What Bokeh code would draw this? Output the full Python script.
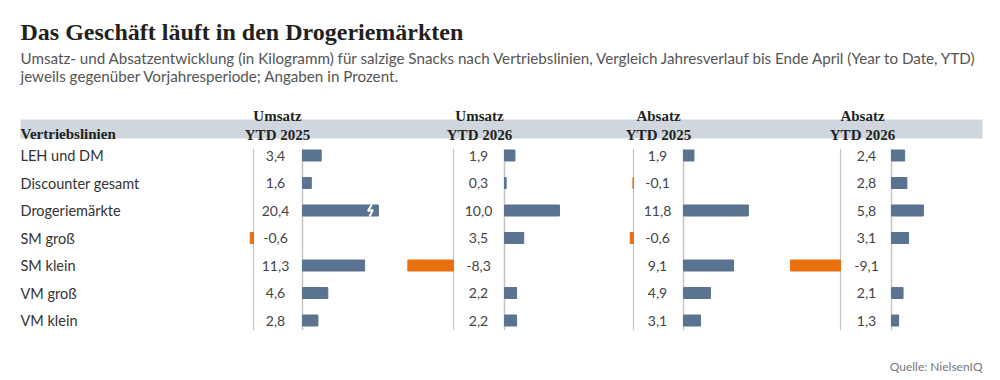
from bokeh.plotting import figure
from bokeh.models import Range1d
from bokeh.core.properties import value
from bokeh.embed import file_html
from bokeh.resources import INLINE

# ---------------- data ----------------
categories = ["LEH und DM", "Discounter gesamt", "Drogeriemärkte", "SM groß",
              "SM klein", "VM groß", "VM klein"]
umsatz_2025 = [3.4, 1.6, 20.4, -0.6, 11.3, 4.6, 2.8]
umsatz_2026 = [1.9, 0.3, 10.0, 3.5, -8.3, 2.2, 2.2]
absatz_2025 = [1.9, -0.1, 11.8, -0.6, 9.1, 4.9, 3.1]
absatz_2026 = [2.4, 2.8, 5.8, 3.1, -9.1, 2.1, 1.3]
series = [umsatz_2025, umsatz_2026, absatz_2025, absatz_2026]
header_top = ["Umsatz", "Umsatz", "Absatz", "Absatz"]
header_bottom = ["YTD 2025", "YTD 2026", "YTD 2025", "YTD 2026"]
row_header = "Vertriebslinien"
title = "Das Geschäft läuft in den Drogeriemärkten"
subtitle = ["Umsatz- und Absatzentwicklung (in Kilogramm) für salzige Snacks nach Vertriebslinien, Vergleich Jahresverlauf bis Ende April (Year to Date, YTD)",
            "jeweils gegenüber Vorjahresperiode; Angaben in Prozent."]
source = "Quelle: NielsenIQ"

# ---------------- layout (pixels) ----------------
W, H = 1000, 380
PX_PER_UNIT = 5.5
CAP = 13.8            # longest drawn bar (values above are broken)
neg_zero = [253, 453, 633, 840]
pos_zero = [302, 504, 683, 891]
label_x = [275, 478, 657, 866]
header_x = [277, 479, 658, 862]
ROW0, ROW_STEP = 155, 27.5

BLUE = "#5a7391"
ORANGE = "#e8700f"
LINE = "#c4c4c4"
SANS = "Lato"
SERIF = "Liberation Serif"

p = figure(width=W, height=H, x_range=Range1d(0, W), y_range=Range1d(H, 0),
           output_backend="svg", toolbar_location=None, min_border=0,
           x_axis_type=None, y_axis_type=None, outline_line_color=None,
           background_fill_color="white", border_fill_color="white")
p.grid.visible = False

p.extra_y_ranges = {"rows": Range1d(start=(H - ROW0) / ROW_STEP, end=-ROW0 / ROW_STEP)}
for g in range(4):
    p.extra_x_ranges[f"pos{g}"] = Range1d(start=-pos_zero[g] / PX_PER_UNIT,
                                          end=(W - pos_zero[g]) / PX_PER_UNIT)
    p.extra_x_ranges[f"neg{g}"] = Range1d(start=-neg_zero[g] / PX_PER_UNIT,
                                          end=(W - neg_zero[g]) / PX_PER_UNIT)

rows = list(range(len(categories)))

# title / subtitle
p.text(x=[20], y=[31], text=[title], text_font=value(SERIF), text_font_style="bold",
       text_font_size="24px", text_color="#231f1c", text_baseline="alphabetic")
p.text(x=[20, 20], y=[57, 75], text=subtitle, text_font=value(SANS),
       text_font_size="15.2px", text_color="#555555", text_baseline="alphabetic")

# header band
p.quad(left=[20], right=[982], top=[119], bottom=[138], fill_color="#cfd6dd", line_color=None)
p.text(x=[20], y=[133], text=[row_header], text_font=value(SERIF), text_font_style="bold",
       text_font_size="15px", text_color="#222222", text_baseline="alphabetic")
p.text(x=header_x, y=[115] * 4, text=header_top, text_font=value(SERIF), text_font_style="bold",
       text_font_size="15px", text_color="#222222", text_align="center", text_baseline="alphabetic")
p.text(x=header_x, y=[134] * 4, text=header_bottom, text_font=value(SERIF), text_font_style="bold",
       text_font_size="15px", text_color="#222222", text_align="center", text_baseline="alphabetic")

# row labels
p.text(x=[20] * len(rows), y=rows, y_range_name="rows", text=categories, text_font=value(SANS),
       text_font_size="14.5px", text_color="#333333", text_baseline="middle")

for g, vals in enumerate(series):
    # zero lines
    p.segment(x0=[0], x1=[0], y0=[-0.25], y1=[6.35], x_range_name=f"neg{g}", y_range_name="rows",
              line_color=LINE, line_width=1.2)
    p.segment(x0=[0], x1=[0], y0=[-0.25], y1=[6.35], x_range_name=f"pos{g}", y_range_name="rows",
              line_color=LINE, line_width=1.5)
    pos_r = [i for i in rows if vals[i] > 0]
    neg_r = [i for i in rows if vals[i] < 0]
    p.hbar(y=pos_r, left=0, right=[min(vals[i], CAP) for i in pos_r], height=0.4,
           x_range_name=f"pos{g}", y_range_name="rows", fill_color=BLUE, line_color=BLUE)
    p.hbar(y=neg_r, left=[vals[i] for i in neg_r], right=0, height=0.4,
           x_range_name=f"neg{g}", y_range_name="rows", fill_color=ORANGE, line_color=ORANGE)
    # break marks for truncated bars
    for i in pos_r:
        if vals[i] > CAP:
            b = CAP - 1.5
            p.line(x=[b + 0.3, b - 0.4, b + 0.5, b - 0.1], y=[i - 0.22, i + 0.02, i - 0.02, i + 0.22],
                   x_range_name=f"pos{g}", y_range_name="rows", line_color="white", line_width=2)
    p.text(x=[label_x[g]] * len(rows), y=rows, y_range_name="rows",
           text=[f"{v:.1f}".replace(".", ",") for v in vals], text_font=value(SANS),
           text_font_size="14px", text_color="#444444", text_align="center", text_baseline="middle")

p.text(x=[982], y=[366], text=[source], text_font=value(SANS), text_font_size="12px",
       text_color="#777777", text_align="right", text_baseline="alphabetic")

open("out.html", "w").write(file_html(p, INLINE))
